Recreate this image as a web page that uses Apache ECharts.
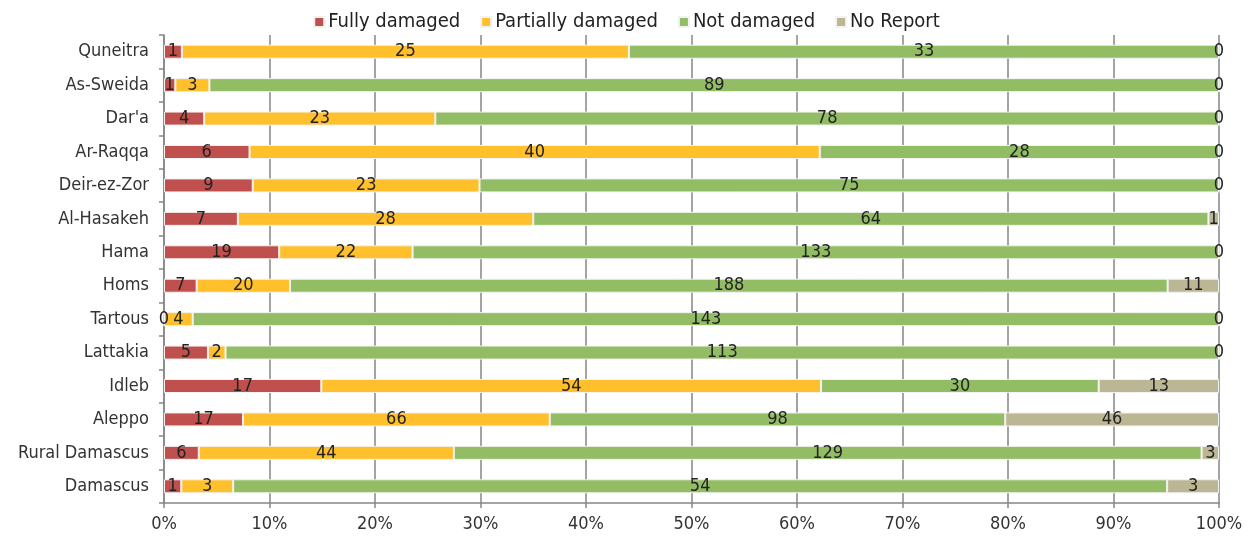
<!DOCTYPE html>
<html>
<head>
<meta charset="utf-8">
<script src="https://cdn.jsdelivr.net/npm/echarts@6/dist/echarts.min.js"></script>
<style>
  html, body { margin: 0; padding: 0; background: #fff; }
  #show_picture { width: 1253px; height: 540px; }
</style>
</head>
<body>
<div id="show_picture"></div>
<script>
// bottom to top (category axis starts at the bottom)
const regions = ['Damascus', 'Rural Damascus', 'Aleppo', 'Idleb', 'Lattakia', 'Tartous', 'Homs',
    'Hama', 'Al-Hasakeh', 'Deir-ez-Zor', 'Ar-Raqqa', "Dar'a", 'As-Sweida', 'Quneitra'];
const fully = [1, 6, 17, 17, 5, 0, 7, 19, 7, 9, 6, 4, 1, 1];
const partially = [3, 44, 66, 54, 2, 4, 20, 22, 28, 23, 40, 23, 3, 25];
const notDamaged = [54, 129, 98, 30, 113, 143, 188, 133, 64, 75, 28, 78, 89, 33];
const noReport = [3, 3, 46, 13, 0, 0, 11, 0, 1, 0, 0, 0, 0, 0];
const xTicks = [0, 10, 20, 30, 40, 50, 60, 70, 80, 90, 100];

let myChart = echarts.init(document.getElementById('show_picture'));

let totals = regions.map((_, i) => fully[i] + partially[i] + notDamaged[i] + noReport[i]);
const font = "'Liberation Sans Narrow', 'DejaVu Sans Condensed', 'Noto Sans', sans-serif";

function makeSeries(name, arr, color) {
    return {
        name: name,
        type: 'bar',
        stack: 'total',
        barWidth: 14,
        data: arr.map((v, i) => ({ value: v / totals[i] * 100, raw: v })),
        itemStyle: { color: color, borderColor: '#f2f2f2', borderWidth: 1 },
        label: {
            show: true,
            position: 'inside',
            color: '#222',
            fontFamily: font,
            fontSize: 18,
            formatter: p => p.data.raw
        }
    };
}

let option = {
    animation: false,
    textStyle: { fontFamily: font },
    legend: {
        top: 7,
        left: 'center',
        itemWidth: 10,
        itemHeight: 10,
        itemGap: 20,
        icon: 'rect',
        textStyle: { fontSize: 20, color: '#222', fontFamily: font, padding: [0, 0, 0, -1] },
        data: ['Fully damaged', 'Partially damaged', 'Not damaged', 'No Report']
    },
    grid: { left: 164, right: 34, top: 35, bottom: 37, containLabel: false },
    xAxis: {
        type: 'value',
        min: 0,
        max: 100,
        interval: 10,
        axisLine: { show: true, lineStyle: { color: '#868686', width: 1.5 } },
        axisTick: { show: true, length: 5, lineStyle: { color: '#868686', width: 1.5 } },
        splitLine: { show: true, lineStyle: { color: '#868686', width: 1.5 } },
        axisLabel: {
            formatter: v => xTicks.includes(v) ? v + '%' : '',
            color: '#333',
            fontSize: 18,
            fontFamily: font,
            margin: 12
        }
    },
    yAxis: {
        type: 'category',
        data: regions,
        axisLine: { show: true, lineStyle: { color: '#868686', width: 1.5 } },
        axisTick: { show: true, length: 5, lineStyle: { color: '#868686', width: 1.5 } },
        axisLabel: { color: '#333', fontSize: 18, fontFamily: font, margin: 15 }
    },
    series: [
        makeSeries('Fully damaged', fully, '#C0504D'),
        makeSeries('Partially damaged', partially, '#FFC02B'),
        makeSeries('Not damaged', notDamaged, '#93BD64'),
        makeSeries('No Report', noReport, '#BBB693')
    ]
};

option && myChart.setOption(option);
</script>
</body>
</html>
